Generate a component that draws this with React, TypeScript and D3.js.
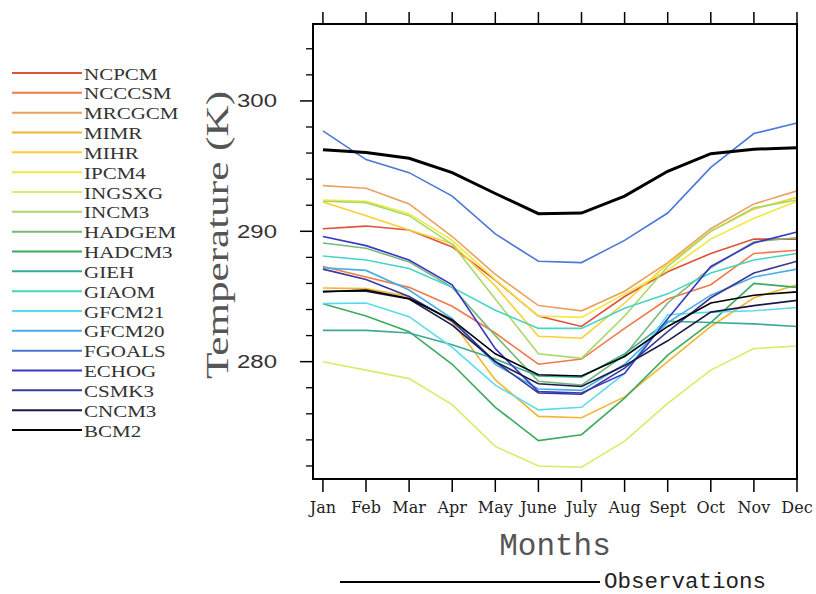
import * as d3 from "d3";

const MONTHS = ["Jan", "Feb", "Mar", "Apr", "May", "June", "July", "Aug", "Sept", "Oct", "Nov", "Dec"];
const Y_MAJOR = [280, 290, 300];
const Y_MINOR = [272, 274, 276, 278, 282, 284, 286, 288, 292, 294, 296, 298, 302, 304];

// monthly mean temperature (K)
const OBSERVATIONS = [296.26, 296.05, 295.6, 294.5, 292.9, 291.35, 291.4, 292.7, 294.6, 295.95, 296.3, 296.4];
const NCPCM = [290.2, 290.4, 290.1, 288.8, 286.25, 283.5, 282.7, 285.0, 286.9, 288.3, 289.4, 289.4];
const NCCCSM = [287.3, 286.5, 285.7, 284.25, 282.2, 279.8, 280.2, 282.55, 284.8, 285.9, 288.3, 288.55];
const MRCGCM = [293.5, 293.3, 292.1, 289.6, 286.7, 284.3, 283.9, 285.4, 287.6, 290.2, 292.1, 293.1];
const MIMR = [285.65, 285.6, 285.0, 283.05, 278.6, 275.8, 275.7, 277.3, 280.0, 282.7, 284.9, 285.9];
const MIHR = [292.25, 291.2, 290.1, 289.05, 285.8, 281.95, 281.8, 284.5, 287.5, 290.0, 291.7, 292.6];
const IPCM4 = [292.4, 292.3, 291.35, 289.3, 286.3, 283.5, 283.4, 285.2, 287.0, 289.4, 291.0, 292.3];
const INGSXG = [280.0, 279.35, 278.7, 276.7, 273.5, 272.0, 271.9, 273.9, 276.8, 279.35, 281.0, 281.2];
const INCM3 = [292.3, 292.2, 291.2, 289.0, 284.8, 280.6, 280.25, 283.5, 287.3, 290.0, 291.8, 292.4];
const HADGEM = [289.1, 288.7, 287.65, 285.7, 282.0, 278.5, 278.2, 280.5, 284.5, 287.2, 289.2, 289.5];
const HADCM3 = [284.45, 283.5, 282.3, 279.8, 276.5, 273.95, 274.4, 277.2, 280.5, 283.0, 286.0, 285.7];
const GIEH = [282.4, 282.4, 282.2, 281.3, 280.2, 278.9, 278.8, 280.6, 283.1, 283.0, 282.9, 282.7];
const GIAOM = [288.1, 287.8, 287.15, 285.7, 283.95, 282.55, 282.55, 284.1, 285.2, 286.8, 287.8, 288.3];
const GFCM21 = [284.45, 284.5, 283.45, 281.1, 278.2, 276.3, 276.5, 279.1, 283.6, 283.8, 283.9, 284.15];
const GFCM20 = [287.2, 287.0, 285.5, 283.3, 279.8, 277.9, 277.8, 279.8, 283.0, 285.1, 286.5, 287.1];
const FGOALS = [297.7, 295.5, 294.5, 292.7, 289.8, 287.7, 287.6, 289.3, 291.4, 294.9, 297.5, 298.3];
const ECHOG = [289.6, 288.9, 287.8, 285.9, 281.0, 277.7, 277.6, 279.1, 283.3, 287.3, 289.1, 289.95];
const CSMK3 = [287.1, 286.3, 285.0, 283.1, 280.0, 277.6, 277.5, 279.5, 282.3, 284.9, 286.8, 287.7];
const CNCM3 = [285.4, 285.4, 284.8, 282.8, 280.0, 278.3, 278.1, 279.7, 281.6, 283.8, 284.3, 284.7];
const BCM2 = [285.35, 285.5, 284.85, 283.2, 280.6, 279.0, 278.9, 280.4, 282.7, 284.5, 285.1, 285.35];

const MODEL_NAMES = ["NCPCM", "NCCCSM", "MRCGCM", "MIMR", "MIHR", "IPCM4", "INGSXG", "INCM3", "HADGEM", "HADCM3", "GIEH", "GIAOM", "GFCM21", "GFCM20", "FGOALS", "ECHOG", "CSMK3", "CNCM3", "BCM2"];
const MODEL_VALUES = [NCPCM, NCCCSM, MRCGCM, MIMR, MIHR, IPCM4, INGSXG, INCM3, HADGEM, HADCM3, GIEH, GIAOM, GFCM21, GFCM20, FGOALS, ECHOG, CSMK3, CNCM3, BCM2];
const MODEL_COLORS = ["#e0503a", "#f07a4a", "#eba060", "#f2b632", "#f5d232", "#f0ea3c", "#d8ec6a", "#a8d868", "#78b878", "#3caa60", "#3aaa94", "#48d4c4", "#58dcec", "#4aaee6", "#4a78d4", "#3838c8", "#3a3a94", "#1a1a4a", "#000000"];

const FRAME = { left: 313, right: 797, top: 24, bottom: 479 };

export default function App() {
  const x = d3.scaleLinear().domain([-0.23, 11]).range([FRAME.left, FRAME.right]);
  const y = d3.scaleLinear().domain([271, 305.9]).range([FRAME.bottom, FRAME.top]);

  const line = d3
    .line<number>()
    .x((_, i) => x(i))
    .y((d) => y(d));

  const legendY = d3.scaleLinear().domain([0, MODEL_NAMES.length - 1]).range([73, 430]);

  return (
    <svg width={816} height={594} style={{ position: "absolute", left: 0, top: 0, background: "white" }}>
      {/* legend */}
      {MODEL_NAMES.map((name, i) => (
        <g key={name}>
          <line x1={12} x2={82} y1={legendY(i)} y2={legendY(i)} stroke={MODEL_COLORS[i]} strokeWidth={2} />
          <text
            transform={`translate(84, ${legendY(i) + 6.5}) scale(1.2, 1)`}
            fontFamily="Liberation Serif"
            fontSize={17.5}
            fill="#333"
          >
            {name}
          </text>
        </g>
      ))}

      {/* model lines */}
      <g>
        {MODEL_VALUES.map((vals, i) => (
          <path key={i} d={line(vals) ?? ""} fill="none" stroke={MODEL_COLORS[i]} strokeWidth={1.6} />
        ))}
        <path d={line(OBSERVATIONS) ?? ""} fill="none" stroke="#000" strokeWidth={3} />
      </g>

      {/* frame */}
      <rect x={FRAME.left} y={FRAME.top} width={FRAME.right - FRAME.left} height={FRAME.bottom - FRAME.top} fill="none" stroke="#000" strokeWidth={2} />

      {/* y ticks */}
      {Y_MAJOR.map((v) => (
        <g key={v}>
          <line x1={FRAME.left - 13} x2={FRAME.left} y1={y(v)} y2={y(v)} stroke="#000" strokeWidth={1.5} />
          <text x={277} y={y(v) + 6.5} textAnchor="end" fontFamily="Liberation Sans" fontSize={18} textLength={40} lengthAdjust="spacingAndGlyphs" fill="#333">
            {v}
          </text>
        </g>
      ))}
      {Y_MINOR.map((v) => (
        <line key={v} x1={FRAME.left - 7} x2={FRAME.left} y1={y(v)} y2={y(v)} stroke="#000" strokeWidth={1.3} />
      ))}

      {/* x ticks, top and bottom */}
      {MONTHS.map((m, i) => (
        <g key={m}>
          <line x1={x(i)} x2={x(i)} y1={FRAME.bottom} y2={FRAME.bottom + 13} stroke="#000" strokeWidth={1.5} />
          <line x1={x(i)} x2={x(i)} y1={FRAME.top} y2={FRAME.top - 12} stroke="#000" strokeWidth={1.5} />
          <text x={x(i)} y={513} textAnchor="middle" fontFamily="DejaVu Serif" fontSize={16} fill="#222">
            {m}
          </text>
        </g>
      ))}

      {/* axis titles */}
      <text
        transform={`translate(228, 235) rotate(-90)`}
        textAnchor="middle"
        fontFamily="Liberation Serif"
        fontSize={32}
        textLength={288}
        lengthAdjust="spacingAndGlyphs"
        fill="#555"
      >
        Temperature (K)
      </text>
      <text x={555} y={555} textAnchor="middle" fontFamily="Liberation Mono" fontSize={31} fill="#555">
        Months
      </text>

      {/* observations key */}
      <line x1={340} x2={600} y1={582} y2={582} stroke="#000" strokeWidth={2} />
      <text x={604} y={588} fontFamily="Liberation Mono" fontSize={22.5} fill="#222">
        Observations
      </text>
    </svg>
  );
}
